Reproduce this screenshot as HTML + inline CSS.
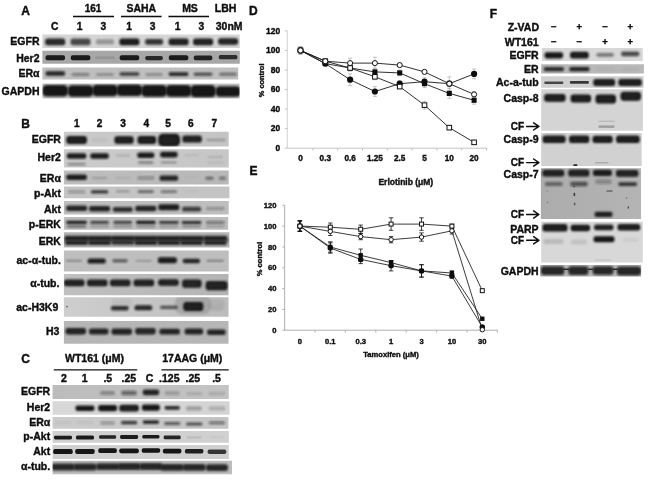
<!DOCTYPE html>
<html lang="en"><head><meta charset="utf-8"><title>Figure</title>
<style>html,body{margin:0;padding:0;background:#fff;}svg{display:block;}text{font-family:"Liberation Sans", Arial, sans-serif;fill:#0a0a0a;stroke:#0a0a0a;stroke-width:0.35px;stroke-linejoin:round;}</style>
</head><body>
<svg width="650" height="483" viewBox="0 0 650 483">
<defs>
<filter id="b1" x="-20%" y="-60%" width="140%" height="220%"><feGaussianBlur stdDeviation="0.8"/></filter>
<filter id="b2" x="-20%" y="-60%" width="140%" height="220%"><feGaussianBlur stdDeviation="1.2"/></filter>
<filter id="b0" x="-20%" y="-60%" width="140%" height="220%"><feGaussianBlur stdDeviation="0.5"/></filter>
<filter id="b7" x="-20%" y="-60%" width="140%" height="220%"><feGaussianBlur stdDeviation="0.68"/></filter>
<filter id="tb"><feGaussianBlur stdDeviation="0.35"/></filter>
</defs>
<rect width="650" height="483" fill="#fff"/>
<g filter="url(#tb)">
<text x="21.3" y="14.8" font-size="12" font-weight="bold" text-anchor="start" >A</text>
<text x="93.0" y="11.8" font-size="10.0" font-weight="bold" text-anchor="middle" >161</text>
<text x="141.3" y="11.8" font-size="10.5" font-weight="bold" text-anchor="middle" >SAHA</text>
<text x="190.0" y="11.8" font-size="10.5" font-weight="bold" text-anchor="middle" >MS</text>
<text x="225.6" y="11.8" font-size="10.5" font-weight="bold" text-anchor="middle" >LBH</text>
<line x1="73.0" y1="16.5" x2="114.0" y2="16.5" stroke="#111" stroke-width="1.4"/>
<line x1="121.0" y1="16.5" x2="161.6" y2="16.5" stroke="#111" stroke-width="1.4"/>
<line x1="168.4" y1="16.5" x2="209.0" y2="16.5" stroke="#111" stroke-width="1.4"/>
<text x="54.8" y="29.6" font-size="10.3" font-weight="bold" text-anchor="middle" >C</text>
<text x="79.6" y="29.6" font-size="10.3" font-weight="bold" text-anchor="middle" >1</text>
<text x="103.4" y="29.6" font-size="10.3" font-weight="bold" text-anchor="middle" >3</text>
<text x="129.0" y="29.6" font-size="10.3" font-weight="bold" text-anchor="middle" >1</text>
<text x="152.7" y="29.6" font-size="10.3" font-weight="bold" text-anchor="middle" >3</text>
<text x="177.7" y="29.6" font-size="10.3" font-weight="bold" text-anchor="middle" >1</text>
<text x="201.4" y="29.6" font-size="10.3" font-weight="bold" text-anchor="middle" >3</text>
<text x="229.2" y="29.6" font-size="10.5" font-weight="bold" text-anchor="middle" >30nM</text>
<text x="39.5" y="44.6" font-size="10.5" font-weight="bold" text-anchor="end" >EGFR</text>
<text x="39.5" y="61.5" font-size="10.5" font-weight="bold" text-anchor="end" >Her2</text>
<text x="39.5" y="77.0" font-size="10.5" font-weight="bold" text-anchor="end" >ER&#945;</text>
<text x="39.5" y="95.0" font-size="10.5" font-weight="bold" text-anchor="end" >GAPDH</text>
</g>
<svg x="42.4" y="34.4" width="197.4" height="13.5" viewBox="42.4 34.4 197.4 13.5" overflow="hidden">
<rect x="40.4" y="32.4" width="201.4" height="17.5" fill="#d5d5d5"/>
<rect x="45.2" y="38.6" width="20.0" height="6.6" rx="2.5" fill="#141414" fill-opacity="0.92" filter="url(#b1)"/>
<rect x="70.5" y="38.6" width="20.0" height="6.6" rx="2.5" fill="#141414" fill-opacity="0.72" filter="url(#b1)"/>
<rect x="96.0" y="39.6" width="18.0" height="4.6" rx="1.7" fill="#141414" fill-opacity="0.36" filter="url(#b1)"/>
<rect x="119.4" y="38.6" width="20.0" height="6.6" rx="2.5" fill="#141414" fill-opacity="1.00" filter="url(#b1)"/>
<rect x="145.1" y="39.0" width="18.0" height="5.8" rx="2.2" fill="#141414" fill-opacity="0.85" filter="url(#b1)"/>
<rect x="168.6" y="38.6" width="20.0" height="6.6" rx="2.5" fill="#141414" fill-opacity="0.97" filter="url(#b1)"/>
<rect x="193.1" y="38.6" width="20.0" height="6.6" rx="2.5" fill="#141414" fill-opacity="0.97" filter="url(#b1)"/>
<rect x="218.1" y="38.2" width="20.0" height="6.6" rx="2.5" fill="#141414" fill-opacity="0.95" filter="url(#b1)"/>
<rect x="47.4" y="40.3" width="15.6" height="3.2" rx="1.6" fill="#585858" fill-opacity="0.16" filter="url(#b1)"/>
<rect x="121.6" y="40.3" width="15.6" height="3.2" rx="1.6" fill="#585858" fill-opacity="0.16" filter="url(#b1)"/>
<rect x="170.8" y="40.3" width="15.6" height="3.2" rx="1.6" fill="#585858" fill-opacity="0.16" filter="url(#b1)"/>
<rect x="195.3" y="40.3" width="15.6" height="3.2" rx="1.6" fill="#585858" fill-opacity="0.16" filter="url(#b1)"/>
<rect x="220.3" y="39.9" width="15.6" height="3.2" rx="1.6" fill="#585858" fill-opacity="0.16" filter="url(#b1)"/>
</svg>
<svg x="42.4" y="50.7" width="197.4" height="13.0" viewBox="42.4 50.7 197.4 13.0" overflow="hidden">
<rect x="40.4" y="48.7" width="201.4" height="17.0" fill="#a7a7a7"/>
<rect x="45.5" y="55.2" width="19.5" height="5.0" rx="1.9" fill="#141414" fill-opacity="0.97" filter="url(#b7)"/>
<rect x="70.8" y="55.2" width="19.5" height="5.0" rx="1.9" fill="#141414" fill-opacity="0.97" filter="url(#b7)"/>
<rect x="95.2" y="56.2" width="19.5" height="3.0" rx="1.1" fill="#141414" fill-opacity="0.10" filter="url(#b7)"/>
<rect x="119.7" y="55.2" width="19.5" height="5.0" rx="1.9" fill="#141414" fill-opacity="0.97" filter="url(#b7)"/>
<rect x="145.3" y="55.9" width="17.5" height="4.4" rx="1.7" fill="#141414" fill-opacity="0.88" filter="url(#b7)"/>
<rect x="168.8" y="55.2" width="19.5" height="5.0" rx="1.9" fill="#141414" fill-opacity="0.97" filter="url(#b7)"/>
<rect x="193.8" y="55.6" width="18.5" height="4.7" rx="1.8" fill="#141414" fill-opacity="0.92" filter="url(#b7)"/>
<rect x="218.8" y="55.1" width="18.5" height="4.2" rx="1.6" fill="#141414" fill-opacity="0.85" filter="url(#b7)"/>
</svg>
<svg x="42.4" y="67.4" width="195.8" height="12.1" viewBox="42.4 67.4 195.8 12.1" overflow="hidden">
<rect x="40.4" y="65.4" width="199.8" height="16.1" fill="#bfbfbf"/>
<rect x="45.5" y="71.2" width="19.5" height="4.6" rx="1.7" fill="#141414" fill-opacity="0.92" filter="url(#b1)"/>
<rect x="71.8" y="73.0" width="17.5" height="3.1" rx="1.2" fill="#141414" fill-opacity="0.40" filter="url(#b1)"/>
<rect x="96.2" y="73.0" width="17.5" height="3.1" rx="1.2" fill="#141414" fill-opacity="0.26" filter="url(#b1)"/>
<rect x="119.7" y="72.2" width="19.5" height="3.6" rx="1.3" fill="#141414" fill-opacity="0.75" filter="url(#b1)"/>
<rect x="145.8" y="73.2" width="16.5" height="2.6" rx="1.0" fill="#141414" fill-opacity="0.38" filter="url(#b1)"/>
<rect x="168.8" y="72.2" width="19.5" height="3.8" rx="1.4" fill="#141414" fill-opacity="0.90" filter="url(#b1)"/>
<rect x="193.8" y="72.7" width="18.5" height="3.1" rx="1.2" fill="#141414" fill-opacity="0.70" filter="url(#b1)"/>
<rect x="219.3" y="72.7" width="17.5" height="3.1" rx="1.2" fill="#141414" fill-opacity="0.50" filter="url(#b1)"/>
</svg>
<svg x="42.4" y="83.4" width="197.2" height="15.2" viewBox="42.4 83.4 197.2 15.2" overflow="hidden">
<rect x="40.4" y="81.4" width="201.2" height="19.2" fill="#c8c8c8"/>
<rect x="42.4" y="84.9" width="25.6" height="11.6" rx="4.3" fill="#141414" fill-opacity="1.00" filter="url(#b1)"/>
<rect x="67.7" y="85.2" width="25.6" height="11.6" rx="4.3" fill="#141414" fill-opacity="1.00" filter="url(#b1)"/>
<rect x="92.2" y="84.7" width="25.6" height="11.6" rx="4.3" fill="#141414" fill-opacity="1.00" filter="url(#b1)"/>
<rect x="116.6" y="84.5" width="25.6" height="11.6" rx="4.3" fill="#141414" fill-opacity="1.00" filter="url(#b1)"/>
<rect x="141.3" y="85.1" width="25.6" height="11.6" rx="4.3" fill="#141414" fill-opacity="1.00" filter="url(#b1)"/>
<rect x="165.8" y="85.1" width="25.6" height="11.6" rx="4.3" fill="#141414" fill-opacity="1.00" filter="url(#b1)"/>
<rect x="190.3" y="85.1" width="25.6" height="12.2" rx="4.6" fill="#141414" fill-opacity="1.00" filter="url(#b1)"/>
<rect x="215.8" y="86.2" width="24.6" height="10.6" rx="4.0" fill="#141414" fill-opacity="1.00" filter="url(#b1)"/>
</svg>
<g filter="url(#tb)">
<text x="21.3" y="127.9" font-size="12" font-weight="bold" text-anchor="start" >B</text>
<text x="76.8" y="126.6" font-size="10.1" font-weight="bold" text-anchor="middle" >1</text>
<text x="99.6" y="126.6" font-size="10.1" font-weight="bold" text-anchor="middle" >2</text>
<text x="123.1" y="126.6" font-size="10.1" font-weight="bold" text-anchor="middle" >3</text>
<text x="146.2" y="126.6" font-size="10.1" font-weight="bold" text-anchor="middle" >4</text>
<text x="168.1" y="126.6" font-size="10.1" font-weight="bold" text-anchor="middle" >5</text>
<text x="190.9" y="126.6" font-size="10.1" font-weight="bold" text-anchor="middle" >6</text>
<text x="214.3" y="126.6" font-size="10.1" font-weight="bold" text-anchor="middle" >7</text>
<text x="60.9" y="142.9" font-size="10.5" font-weight="bold" text-anchor="end" >EGFR</text>
<text x="60.9" y="160.8" font-size="10.5" font-weight="bold" text-anchor="end" >Her2</text>
<text x="60.9" y="181.6" font-size="10.5" font-weight="bold" text-anchor="end" >ER&#945;</text>
<text x="60.9" y="196.5" font-size="10.5" font-weight="bold" text-anchor="end" >p-Akt</text>
<text x="60.9" y="213.4" font-size="10.5" font-weight="bold" text-anchor="end" >Akt</text>
<text x="60.9" y="228.4" font-size="10.5" font-weight="bold" text-anchor="end" >p-ERK</text>
<text x="60.9" y="244.6" font-size="10.5" font-weight="bold" text-anchor="end" >ERK</text>
<text x="60.9" y="264.0" font-size="10.5" font-weight="bold" text-anchor="end" >ac-&#945;-tub.</text>
<text x="59.4" y="286.8" font-size="10.5" font-weight="bold" text-anchor="end" >&#945;-tub.</text>
<text x="58.3" y="311.3" font-size="10.5" font-weight="bold" text-anchor="end" >ac-H3K9</text>
<text x="59.4" y="335.1" font-size="10.5" font-weight="bold" text-anchor="end" >H3</text>
</g>
<linearGradient id="g5" gradientUnits="userSpaceOnUse" x1="63.9" y1="0" x2="228.7" y2="0"><stop offset="0" stop-color="#cacaca"/><stop offset="1" stop-color="#c4c4c4"/></linearGradient>
<svg x="63.9" y="131.8" width="164.8" height="14.8" viewBox="63.9 131.8 164.8 14.8" overflow="hidden">
<rect x="61.9" y="129.8" width="168.8" height="18.8" fill="url(#g5)"/>
<rect x="66.3" y="136.1" width="20.6" height="7.8" rx="2.9" fill="#141414" fill-opacity="1.00" filter="url(#b1)"/>
<rect x="92.2" y="138.2" width="14.6" height="3.6" rx="1.3" fill="#141414" fill-opacity="0.06" filter="url(#b1)"/>
<rect x="114.4" y="136.3" width="19.2" height="7.4" rx="2.8" fill="#141414" fill-opacity="1.00" filter="url(#b1)"/>
<rect x="137.5" y="136.0" width="18.6" height="8.0" rx="3.0" fill="#141414" fill-opacity="1.00" filter="url(#b1)"/>
<rect x="158.2" y="133.8" width="21.8" height="12.6" rx="4.7" fill="#141414" fill-opacity="1.00" filter="url(#b1)"/>
<rect x="182.4" y="135.5" width="19.4" height="7.0" rx="2.6" fill="#141414" fill-opacity="0.97" filter="url(#b1)"/>
<rect x="206.3" y="139.0" width="19.0" height="2.0" rx="0.8" fill="#141414" fill-opacity="0.32" filter="url(#b1)"/>
<rect x="68.5" y="137.8" width="16.2" height="4.4" rx="2.2" fill="#585858" fill-opacity="0.16" filter="url(#b1)"/>
<rect x="116.6" y="138.0" width="14.8" height="4.0" rx="2.0" fill="#585858" fill-opacity="0.16" filter="url(#b1)"/>
<rect x="139.7" y="137.7" width="14.2" height="4.6" rx="2.3" fill="#585858" fill-opacity="0.16" filter="url(#b1)"/>
<rect x="160.4" y="135.5" width="17.4" height="9.2" rx="4.6" fill="#585858" fill-opacity="0.16" filter="url(#b1)"/>
<rect x="184.6" y="137.2" width="15.0" height="3.6" rx="1.8" fill="#585858" fill-opacity="0.16" filter="url(#b1)"/>
</svg>
<linearGradient id="g6" gradientUnits="userSpaceOnUse" x1="63.9" y1="0" x2="228.7" y2="0"><stop offset="0" stop-color="#cccccc"/><stop offset="1" stop-color="#c6c6c6"/></linearGradient>
<svg x="63.9" y="149.3" width="164.8" height="18.3" viewBox="63.9 149.3 164.8 18.3" overflow="hidden">
<rect x="61.9" y="147.3" width="168.8" height="22.3" fill="url(#g6)"/>
<rect x="66.8" y="153.3" width="19.5" height="5.4" rx="2.0" fill="#141414" fill-opacity="0.97" filter="url(#b1)"/>
<rect x="90.3" y="153.3" width="18.5" height="5.4" rx="2.0" fill="#141414" fill-opacity="0.97" filter="url(#b1)"/>
<rect x="115.5" y="154.3" width="14.5" height="2.4" rx="0.9" fill="#141414" fill-opacity="0.13" filter="url(#b1)"/>
<rect x="137.3" y="152.4" width="17.0" height="5.6" rx="2.1" fill="#141414" fill-opacity="0.97" filter="url(#b1)"/>
<rect x="160.1" y="151.8" width="17.5" height="5.6" rx="2.1" fill="#141414" fill-opacity="0.97" filter="url(#b1)"/>
<rect x="184.3" y="154.2" width="14.5" height="1.9" rx="0.7" fill="#141414" fill-opacity="0.10" filter="url(#b1)"/>
<rect x="207.6" y="155.9" width="15.5" height="2.2" rx="0.8" fill="#141414" fill-opacity="0.13" filter="url(#b1)"/>
<rect x="67.6" y="163.0" width="18.0" height="2.3" rx="0.9" fill="#141414" fill-opacity="0.42" filter="url(#b1)"/>
<rect x="138.3" y="161.4" width="15.0" height="2.3" rx="0.9" fill="#141414" fill-opacity="0.48" filter="url(#b1)"/>
<rect x="160.8" y="161.4" width="16.0" height="2.0" rx="0.7" fill="#141414" fill-opacity="0.32" filter="url(#b1)"/>
<rect x="206.8" y="161.4" width="17.0" height="2.3" rx="0.9" fill="#141414" fill-opacity="0.08" filter="url(#b1)"/>
</svg>
<linearGradient id="g7" gradientUnits="userSpaceOnUse" x1="63.9" y1="0" x2="228.7" y2="0"><stop offset="0" stop-color="#bebebe"/><stop offset="1" stop-color="#b8b8b8"/></linearGradient>
<svg x="63.9" y="170.5" width="164.8" height="14.1" viewBox="63.9 170.5 164.8 14.1" overflow="hidden">
<rect x="61.9" y="168.5" width="168.8" height="18.1" fill="url(#g7)"/>
<rect x="66.3" y="174.5" width="20.5" height="5.6" rx="2.1" fill="#141414" fill-opacity="0.97" filter="url(#b1)"/>
<rect x="91.8" y="176.8" width="15.5" height="2.4" rx="0.9" fill="#141414" fill-opacity="0.17" filter="url(#b1)"/>
<rect x="115.0" y="176.7" width="15.5" height="2.6" rx="1.0" fill="#141414" fill-opacity="0.08" filter="url(#b1)"/>
<rect x="137.6" y="176.6" width="16.5" height="2.8" rx="1.0" fill="#141414" fill-opacity="0.32" filter="url(#b1)"/>
<rect x="159.6" y="175.6" width="18.5" height="5.2" rx="1.9" fill="#141414" fill-opacity="0.92" filter="url(#b1)"/>
<rect x="184.3" y="176.0" width="14.5" height="2.6" rx="1.0" fill="#141414" fill-opacity="0.03" filter="url(#b1)"/>
<rect x="205.5" y="176.8" width="8.0" height="3.0" rx="1.1" fill="#141414" fill-opacity="0.50" filter="url(#b1)"/>
<rect x="219.0" y="176.8" width="7.0" height="3.0" rx="1.1" fill="#141414" fill-opacity="0.45" filter="url(#b1)"/>
</svg>
<svg x="63.9" y="186.6" width="165.5" height="11.6" viewBox="63.9 186.6 165.5 11.6" overflow="hidden">
<rect x="61.9" y="184.6" width="169.5" height="15.6" fill="#c4c4c4"/>
<rect x="68.1" y="190.5" width="17.0" height="2.8" rx="1.0" fill="#141414" fill-opacity="0.30" filter="url(#b1)"/>
<rect x="91.1" y="190.3" width="17.0" height="3.2" rx="1.2" fill="#141414" fill-opacity="0.80" filter="url(#b1)"/>
<rect x="115.8" y="190.3" width="14.0" height="2.3" rx="0.9" fill="#141414" fill-opacity="0.24" filter="url(#b1)"/>
<rect x="137.8" y="190.2" width="16.0" height="2.8" rx="1.0" fill="#141414" fill-opacity="0.55" filter="url(#b1)"/>
<rect x="160.8" y="190.2" width="16.0" height="2.8" rx="1.0" fill="#141414" fill-opacity="0.48" filter="url(#b1)"/>
<rect x="185.1" y="190.5" width="13.0" height="1.8" rx="0.7" fill="#141414" fill-opacity="0.05" filter="url(#b1)"/>
</svg>
<svg x="63.9" y="201.0" width="164.8" height="13.6" viewBox="63.9 201.0 164.8 13.6" overflow="hidden">
<rect x="61.9" y="199.0" width="168.8" height="17.6" fill="#bebebe"/>
<rect x="66.1" y="205.5" width="21.0" height="5.6" rx="2.1" fill="#141414" fill-opacity="0.92" filter="url(#b1)"/>
<rect x="89.1" y="206.0" width="21.0" height="5.6" rx="2.1" fill="#141414" fill-opacity="0.92" filter="url(#b1)"/>
<rect x="112.8" y="207.1" width="20.0" height="4.8" rx="1.8" fill="#141414" fill-opacity="0.82" filter="url(#b1)"/>
<rect x="135.3" y="205.7" width="21.0" height="5.6" rx="2.1" fill="#141414" fill-opacity="0.92" filter="url(#b1)"/>
<rect x="158.3" y="204.3" width="21.0" height="6.0" rx="2.2" fill="#141414" fill-opacity="0.96" filter="url(#b1)"/>
<rect x="182.1" y="206.8" width="19.0" height="4.6" rx="1.7" fill="#141414" fill-opacity="0.75" filter="url(#b1)"/>
<rect x="206.3" y="206.9" width="18.0" height="3.2" rx="1.2" fill="#141414" fill-opacity="0.30" filter="url(#b1)"/>
</svg>
<svg x="63.9" y="217.1" width="164.3" height="12.7" viewBox="63.9 217.1 164.3 12.7" overflow="hidden">
<rect x="61.9" y="215.1" width="168.3" height="16.7" fill="#bebebe"/>
<rect x="66.3" y="220.8" width="20.5" height="3.2" rx="1.2" fill="#141414" fill-opacity="0.95" filter="url(#b1)"/>
<rect x="90.3" y="221.0" width="18.5" height="2.8" rx="1.1" fill="#141414" fill-opacity="0.78" filter="url(#b1)"/>
<rect x="113.5" y="221.0" width="18.5" height="2.8" rx="1.1" fill="#141414" fill-opacity="0.78" filter="url(#b1)"/>
<rect x="136.1" y="220.7" width="19.5" height="3.4" rx="1.3" fill="#141414" fill-opacity="0.97" filter="url(#b1)"/>
<rect x="159.1" y="221.0" width="19.5" height="2.8" rx="1.1" fill="#141414" fill-opacity="0.85" filter="url(#b1)"/>
<rect x="181.8" y="221.0" width="19.5" height="2.9" rx="1.1" fill="#141414" fill-opacity="0.88" filter="url(#b1)"/>
<rect x="206.1" y="221.2" width="18.5" height="2.4" rx="0.9" fill="#141414" fill-opacity="0.55" filter="url(#b1)"/>
<rect x="67.1" y="225.2" width="19.0" height="2.2" rx="0.8" fill="#141414" fill-opacity="0.58" filter="url(#b1)"/>
<rect x="90.1" y="225.2" width="19.0" height="2.2" rx="0.8" fill="#141414" fill-opacity="0.22" filter="url(#b1)"/>
<rect x="113.3" y="225.2" width="19.0" height="2.2" rx="0.8" fill="#141414" fill-opacity="0.28" filter="url(#b1)"/>
<rect x="136.3" y="225.2" width="19.0" height="2.2" rx="0.8" fill="#141414" fill-opacity="0.30" filter="url(#b1)"/>
<rect x="159.3" y="225.2" width="19.0" height="2.2" rx="0.8" fill="#141414" fill-opacity="0.24" filter="url(#b1)"/>
<rect x="182.1" y="225.2" width="19.0" height="2.2" rx="0.8" fill="#141414" fill-opacity="0.30" filter="url(#b1)"/>
<rect x="205.8" y="225.2" width="19.0" height="2.2" rx="0.8" fill="#141414" fill-opacity="0.20" filter="url(#b1)"/>
</svg>
<svg x="63.9" y="232.3" width="165.5" height="15.2" viewBox="63.9 232.3 165.5 15.2" overflow="hidden">
<rect x="61.9" y="230.3" width="169.5" height="19.2" fill="#b6b6b6"/>
<rect x="64.6" y="235.8" width="24.0" height="4.8" rx="1.8" fill="#141414" fill-opacity="0.91" filter="url(#b1)"/>
<rect x="87.6" y="235.8" width="24.0" height="4.8" rx="1.8" fill="#141414" fill-opacity="0.91" filter="url(#b1)"/>
<rect x="110.8" y="235.8" width="24.0" height="4.8" rx="1.8" fill="#141414" fill-opacity="0.91" filter="url(#b1)"/>
<rect x="133.8" y="235.8" width="24.0" height="4.8" rx="1.8" fill="#141414" fill-opacity="0.91" filter="url(#b1)"/>
<rect x="156.8" y="235.8" width="24.0" height="4.8" rx="1.8" fill="#141414" fill-opacity="0.91" filter="url(#b1)"/>
<rect x="179.6" y="235.8" width="24.0" height="4.8" rx="1.8" fill="#141414" fill-opacity="0.91" filter="url(#b1)"/>
<rect x="203.3" y="235.8" width="24.0" height="4.8" rx="1.8" fill="#141414" fill-opacity="0.91" filter="url(#b1)"/>
<rect x="65.3" y="240.5" width="22.5" height="4.6" rx="1.7" fill="#141414" fill-opacity="0.91" filter="url(#b1)"/>
<rect x="88.3" y="240.5" width="22.5" height="4.6" rx="1.7" fill="#141414" fill-opacity="0.91" filter="url(#b1)"/>
<rect x="111.5" y="240.8" width="22.5" height="4.0" rx="1.5" fill="#141414" fill-opacity="0.85" filter="url(#b1)"/>
<rect x="134.6" y="240.5" width="22.5" height="4.6" rx="1.7" fill="#141414" fill-opacity="0.91" filter="url(#b1)"/>
<rect x="157.6" y="240.5" width="22.5" height="4.6" rx="1.7" fill="#141414" fill-opacity="0.91" filter="url(#b1)"/>
<rect x="180.3" y="240.5" width="22.5" height="4.6" rx="1.7" fill="#141414" fill-opacity="0.91" filter="url(#b1)"/>
<rect x="204.1" y="240.5" width="22.5" height="4.6" rx="1.7" fill="#141414" fill-opacity="0.90" filter="url(#b1)"/>
<rect x="64.5" y="238.8" width="164.0" height="3.0" rx="1.1" fill="#141414" fill-opacity="0.55" filter="url(#b1)"/>
</svg>
<svg x="63.9" y="250.5" width="164.8" height="20.9" viewBox="63.9 250.5 164.8 20.9" overflow="hidden">
<rect x="61.9" y="248.5" width="168.8" height="24.9" fill="#bebebe"/>
<rect x="65.9" y="259.8" width="16.0" height="2.0" rx="0.8" fill="#141414" fill-opacity="0.30" filter="url(#b1)"/>
<rect x="87.7" y="258.6" width="18.0" height="5.0" rx="1.9" fill="#141414" fill-opacity="0.97" filter="url(#b1)"/>
<rect x="112.5" y="259.3" width="15.0" height="3.0" rx="1.1" fill="#141414" fill-opacity="0.62" filter="url(#b1)"/>
<rect x="135.8" y="259.9" width="16.0" height="1.8" rx="0.7" fill="#141414" fill-opacity="0.25" filter="url(#b1)"/>
<rect x="157.9" y="257.2" width="19.0" height="6.0" rx="2.2" fill="#141414" fill-opacity="0.97" filter="url(#b1)"/>
<rect x="182.9" y="258.8" width="17.0" height="4.4" rx="1.7" fill="#141414" fill-opacity="0.92" filter="url(#b1)"/>
<rect x="206.7" y="259.8" width="17.0" height="2.0" rx="0.8" fill="#141414" fill-opacity="0.36" filter="url(#b1)"/>
</svg>
<linearGradient id="g13" gradientUnits="userSpaceOnUse" x1="63.9" y1="0" x2="228.5" y2="0"><stop offset="0" stop-color="#c0c0c0"/><stop offset="1" stop-color="#b4b4b4"/></linearGradient>
<svg x="63.9" y="274.1" width="164.6" height="21.1" viewBox="63.9 274.1 164.6 21.1" overflow="hidden">
<rect x="61.9" y="272.1" width="168.6" height="25.1" fill="url(#g13)"/>
<rect x="64.0" y="279.6" width="20.5" height="6.6" rx="2.5" fill="#141414" fill-opacity="0.97" filter="url(#b1)"/>
<rect x="87.0" y="279.6" width="20.5" height="6.6" rx="2.5" fill="#141414" fill-opacity="0.97" filter="url(#b1)"/>
<rect x="110.0" y="279.6" width="20.5" height="6.6" rx="2.5" fill="#141414" fill-opacity="0.97" filter="url(#b1)"/>
<rect x="133.6" y="279.6" width="20.5" height="6.6" rx="2.5" fill="#141414" fill-opacity="0.97" filter="url(#b1)"/>
<rect x="158.2" y="279.2" width="20.5" height="6.6" rx="2.5" fill="#141414" fill-opacity="0.97" filter="url(#b1)"/>
<rect x="182.1" y="279.6" width="19.5" height="8.2" rx="3.1" fill="#141414" fill-opacity="0.97" filter="url(#b1)"/>
<rect x="205.6" y="281.1" width="22.0" height="9.2" rx="3.4" fill="#141414" fill-opacity="0.98" filter="url(#b1)"/>
<rect x="66.2" y="281.3" width="16.1" height="3.2" rx="1.6" fill="#585858" fill-opacity="0.16" filter="url(#b1)"/>
<rect x="89.2" y="281.3" width="16.1" height="3.2" rx="1.6" fill="#585858" fill-opacity="0.16" filter="url(#b1)"/>
<rect x="112.2" y="281.3" width="16.1" height="3.2" rx="1.6" fill="#585858" fill-opacity="0.16" filter="url(#b1)"/>
<rect x="135.8" y="281.3" width="16.1" height="3.2" rx="1.6" fill="#585858" fill-opacity="0.16" filter="url(#b1)"/>
<rect x="160.4" y="280.9" width="16.1" height="3.2" rx="1.6" fill="#585858" fill-opacity="0.16" filter="url(#b1)"/>
<rect x="184.2" y="281.3" width="15.1" height="4.8" rx="2.4" fill="#585858" fill-opacity="0.16" filter="url(#b1)"/>
<rect x="207.8" y="282.8" width="17.6" height="5.8" rx="2.9" fill="#585858" fill-opacity="0.16" filter="url(#b1)"/>
</svg>
<linearGradient id="g14" gradientUnits="userSpaceOnUse" x1="63.9" y1="0" x2="228.5" y2="0"><stop offset="0" stop-color="#cecece"/><stop offset="1" stop-color="#bcbcbc"/></linearGradient>
<svg x="63.9" y="297.3" width="164.6" height="19.5" viewBox="63.9 297.3 164.6 19.5" overflow="hidden">
<rect x="61.9" y="295.3" width="168.6" height="23.5" fill="url(#g14)"/>
<rect x="175.0" y="295.5" width="36.0" height="19.0" rx="7.1" fill="#141414" fill-opacity="0.13" filter="url(#b2)"/>
<rect x="209.5" y="299.0" width="15.0" height="12.0" rx="4.5" fill="#141414" fill-opacity="0.07" filter="url(#b2)"/>
<rect x="112.0" y="299.0" width="20.0" height="8.0" rx="3.0" fill="#141414" fill-opacity="0.05" filter="url(#b2)"/>
<rect x="66.2" y="305.8" width="1.6" height="1.6" rx="0.6" fill="#141414" fill-opacity="0.60" filter="url(#b0)"/>
<rect x="111.0" y="305.9" width="17.5" height="4.6" rx="1.7" fill="#141414" fill-opacity="0.88" filter="url(#b1)"/>
<rect x="134.6" y="305.3" width="17.5" height="5.0" rx="1.9" fill="#141414" fill-opacity="0.90" filter="url(#b1)"/>
<rect x="160.1" y="305.7" width="17.5" height="3.4" rx="1.3" fill="#141414" fill-opacity="0.65" filter="url(#b1)"/>
<rect x="207.2" y="305.3" width="17.5" height="4.6" rx="1.7" fill="#141414" fill-opacity="0.02" filter="url(#b1)"/>
<rect x="183.3" y="302.1" width="20.0" height="9.0" rx="3.4" fill="#141414" fill-opacity="1.00" filter="url(#b1)"/>
<rect x="185.5" y="303.8" width="15.6" height="5.6" rx="2.8" fill="#585858" fill-opacity="0.16" filter="url(#b1)"/>
</svg>
<svg x="63.9" y="320.9" width="164.6" height="22.8" viewBox="63.9 320.9 164.6 22.8" overflow="hidden">
<rect x="61.9" y="318.9" width="168.6" height="26.8" fill="#b6b6b6"/>
<rect x="65.5" y="328.0" width="20.5" height="6.4" rx="2.4" fill="#141414" fill-opacity="0.95" filter="url(#b1)"/>
<rect x="89.0" y="328.5" width="19.5" height="6.0" rx="2.2" fill="#141414" fill-opacity="0.93" filter="url(#b1)"/>
<rect x="111.5" y="328.5" width="20.5" height="6.2" rx="2.3" fill="#141414" fill-opacity="0.93" filter="url(#b1)"/>
<rect x="135.2" y="328.0" width="20.5" height="6.4" rx="2.4" fill="#141414" fill-opacity="0.93" filter="url(#b1)"/>
<rect x="159.4" y="328.8" width="20.5" height="5.8" rx="2.2" fill="#141414" fill-opacity="0.93" filter="url(#b1)"/>
<rect x="184.6" y="328.4" width="18.5" height="6.2" rx="2.3" fill="#141414" fill-opacity="0.93" filter="url(#b1)"/>
<rect x="207.1" y="329.4" width="18.5" height="5.6" rx="2.1" fill="#141414" fill-opacity="0.93" filter="url(#b1)"/>
<rect x="67.7" y="329.7" width="16.1" height="3.0" rx="1.5" fill="#585858" fill-opacity="0.16" filter="url(#b1)"/>
<rect x="137.4" y="329.7" width="16.1" height="3.0" rx="1.5" fill="#585858" fill-opacity="0.16" filter="url(#b1)"/>
</svg>
<g filter="url(#tb)">
<text x="21.3" y="363.3" font-size="12" font-weight="bold" text-anchor="start" >C</text>
<text x="94.5" y="362.3" font-size="10.5" font-weight="bold" text-anchor="middle" >WT161 (&#956;M)</text>
<text x="192.3" y="362.3" font-size="10.5" font-weight="bold" text-anchor="middle" >17AAG (&#956;M)</text>
<line x1="53.8" y1="369.9" x2="137.2" y2="369.9" stroke="#111" stroke-width="1.4"/>
<line x1="161.5" y1="369.9" x2="228.7" y2="369.9" stroke="#111" stroke-width="1.4"/>
<text x="63.8" y="382.3" font-size="10.5" font-weight="bold" text-anchor="middle" >2</text>
<text x="84.7" y="382.3" font-size="10.5" font-weight="bold" text-anchor="middle" >1</text>
<text x="107.8" y="382.3" font-size="10.5" font-weight="bold" text-anchor="middle" >.5</text>
<text x="128.9" y="382.3" font-size="10.5" font-weight="bold" text-anchor="middle" >.25</text>
<text x="149.6" y="382.3" font-size="10.5" font-weight="bold" text-anchor="middle" >C</text>
<text x="169.3" y="382.3" font-size="10.5" font-weight="bold" text-anchor="middle" >.125</text>
<text x="192.8" y="382.3" font-size="10.5" font-weight="bold" text-anchor="middle" >.25</text>
<text x="216.6" y="382.3" font-size="10.5" font-weight="bold" text-anchor="middle" >.5</text>
<text x="50.2" y="395.1" font-size="10.5" font-weight="bold" text-anchor="end" >EGFR</text>
<text x="50.2" y="411.4" font-size="10.5" font-weight="bold" text-anchor="end" >Her2</text>
<text x="50.2" y="425.8" font-size="10.5" font-weight="bold" text-anchor="end" >ER&#945;</text>
<text x="50.2" y="439.6" font-size="10.5" font-weight="bold" text-anchor="end" >p-Akt</text>
<text x="50.2" y="455.2" font-size="10.5" font-weight="bold" text-anchor="end" >Akt</text>
<text x="50.2" y="470.2" font-size="10.5" font-weight="bold" text-anchor="end" >&#945;-tub.</text>
</g>
<linearGradient id="g16" gradientUnits="userSpaceOnUse" x1="52.6" y1="0" x2="228.8" y2="0"><stop offset="0" stop-color="#bcbcbc"/><stop offset="1" stop-color="#c4c4c4"/></linearGradient>
<svg x="52.6" y="385.0" width="176.2" height="13.9" viewBox="52.6 385.0 176.2 13.9" overflow="hidden">
<rect x="50.6" y="383.0" width="180.2" height="17.9" fill="url(#g16)"/>
<rect x="100.3" y="391.3" width="14.5" height="3.8" rx="1.4" fill="#141414" fill-opacity="0.36" filter="url(#b1)"/>
<rect x="121.3" y="390.8" width="15.5" height="4.4" rx="1.7" fill="#141414" fill-opacity="0.52" filter="url(#b1)"/>
<rect x="142.7" y="389.6" width="16.5" height="5.6" rx="2.1" fill="#141414" fill-opacity="0.93" filter="url(#b1)"/>
<rect x="164.7" y="391.1" width="15.0" height="4.2" rx="1.6" fill="#141414" fill-opacity="0.20" filter="url(#b2)"/>
<rect x="186.2" y="392.0" width="16.0" height="3.6" rx="1.4" fill="#141414" fill-opacity="0.13" filter="url(#b2)"/>
<rect x="208.4" y="391.8" width="17.0" height="3.6" rx="1.4" fill="#141414" fill-opacity="0.13" filter="url(#b2)"/>
</svg>
<linearGradient id="g17" gradientUnits="userSpaceOnUse" x1="52.6" y1="0" x2="229.6" y2="0"><stop offset="0" stop-color="#d8d8d8"/><stop offset="1" stop-color="#d4d4d4"/></linearGradient>
<svg x="52.6" y="401.2" width="177.0" height="13.6" viewBox="52.6 401.2 177.0 13.6" overflow="hidden">
<rect x="50.6" y="399.2" width="181.0" height="17.6" fill="url(#g17)"/>
<rect x="75.5" y="405.4" width="19.0" height="5.6" rx="2.1" fill="#141414" fill-opacity="1.00" filter="url(#b1)"/>
<rect x="98.1" y="405.1" width="19.0" height="6.2" rx="2.3" fill="#141414" fill-opacity="1.00" filter="url(#b1)"/>
<rect x="119.3" y="404.8" width="19.5" height="6.8" rx="2.5" fill="#141414" fill-opacity="1.00" filter="url(#b1)"/>
<rect x="141.9" y="404.5" width="18.0" height="6.2" rx="2.3" fill="#141414" fill-opacity="1.00" filter="url(#b1)"/>
<rect x="164.7" y="405.9" width="15.0" height="3.8" rx="1.4" fill="#141414" fill-opacity="0.90" filter="url(#b1)"/>
<rect x="186.0" y="406.2" width="16.0" height="4.4" rx="1.7" fill="#141414" fill-opacity="0.26" filter="url(#b2)"/>
<rect x="208.5" y="406.2" width="17.0" height="4.4" rx="1.7" fill="#141414" fill-opacity="0.18" filter="url(#b2)"/>
<rect x="121.5" y="406.5" width="15.1" height="3.4" rx="1.7" fill="#585858" fill-opacity="0.16" filter="url(#b1)"/>
</svg>
<linearGradient id="g18" gradientUnits="userSpaceOnUse" x1="52.6" y1="0" x2="228.4" y2="0"><stop offset="0" stop-color="#cccccc"/><stop offset="1" stop-color="#c4c4c4"/></linearGradient>
<svg x="52.6" y="417.0" width="175.8" height="11.8" viewBox="52.6 417.0 175.8 11.8" overflow="hidden">
<rect x="50.6" y="415.0" width="179.8" height="15.8" fill="url(#g18)"/>
<rect x="54.5" y="421.0" width="17.0" height="3.2" rx="1.2" fill="#141414" fill-opacity="0.05" filter="url(#b1)"/>
<rect x="76.5" y="421.0" width="17.0" height="3.2" rx="1.2" fill="#141414" fill-opacity="0.05" filter="url(#b1)"/>
<rect x="100.6" y="421.4" width="14.0" height="3.2" rx="1.2" fill="#141414" fill-opacity="0.32" filter="url(#b1)"/>
<rect x="121.1" y="421.0" width="16.0" height="3.2" rx="1.2" fill="#141414" fill-opacity="0.80" filter="url(#b1)"/>
<rect x="142.9" y="420.6" width="16.0" height="3.2" rx="1.2" fill="#141414" fill-opacity="0.95" filter="url(#b1)"/>
<rect x="164.2" y="422.0" width="16.0" height="3.0" rx="1.1" fill="#141414" fill-opacity="0.62" filter="url(#b1)"/>
<rect x="186.2" y="422.4" width="16.0" height="3.2" rx="1.2" fill="#141414" fill-opacity="0.68" filter="url(#b1)"/>
<rect x="208.9" y="421.5" width="16.0" height="2.8" rx="1.1" fill="#141414" fill-opacity="0.50" filter="url(#b1)"/>
</svg>
<svg x="52.6" y="431.1" width="176.2" height="11.6" viewBox="52.6 431.1 176.2 11.6" overflow="hidden">
<rect x="50.6" y="429.1" width="180.2" height="15.6" fill="#d0d0d0"/>
<rect x="54.0" y="435.7" width="18.0" height="3.8" rx="1.4" fill="#141414" fill-opacity="0.97" filter="url(#b7)"/>
<rect x="76.0" y="435.4" width="18.0" height="4.0" rx="1.5" fill="#141414" fill-opacity="0.98" filter="url(#b7)"/>
<rect x="99.1" y="435.3" width="17.0" height="3.4" rx="1.3" fill="#141414" fill-opacity="0.93" filter="url(#b7)"/>
<rect x="120.1" y="435.1" width="18.0" height="3.8" rx="1.4" fill="#141414" fill-opacity="0.97" filter="url(#b7)"/>
<rect x="142.4" y="434.9" width="17.0" height="3.6" rx="1.3" fill="#141414" fill-opacity="0.98" filter="url(#b7)"/>
<rect x="163.7" y="435.6" width="17.0" height="3.6" rx="1.3" fill="#141414" fill-opacity="0.93" filter="url(#b7)"/>
<rect x="186.7" y="436.0" width="15.0" height="2.8" rx="1.0" fill="#141414" fill-opacity="0.08" filter="url(#b7)"/>
<rect x="209.4" y="435.8" width="15.0" height="2.8" rx="1.0" fill="#141414" fill-opacity="0.03" filter="url(#b7)"/>
</svg>
<svg x="52.6" y="445.0" width="176.2" height="14.0" viewBox="52.6 445.0 176.2 14.0" overflow="hidden">
<rect x="50.6" y="443.0" width="180.2" height="18.0" fill="#d0d0d0"/>
<rect x="53.2" y="449.1" width="19.5" height="5.0" rx="1.9" fill="#141414" fill-opacity="1.00" filter="url(#b7)"/>
<rect x="75.2" y="448.9" width="19.5" height="5.0" rx="1.9" fill="#141414" fill-opacity="1.00" filter="url(#b7)"/>
<rect x="98.3" y="448.3" width="18.5" height="4.6" rx="1.7" fill="#141414" fill-opacity="1.00" filter="url(#b7)"/>
<rect x="119.3" y="448.4" width="19.5" height="4.8" rx="1.8" fill="#141414" fill-opacity="1.00" filter="url(#b7)"/>
<rect x="141.7" y="448.2" width="18.5" height="4.6" rx="1.7" fill="#141414" fill-opacity="1.00" filter="url(#b7)"/>
<rect x="162.9" y="448.8" width="18.5" height="4.8" rx="1.8" fill="#141414" fill-opacity="1.00" filter="url(#b7)"/>
<rect x="184.9" y="449.0" width="18.5" height="4.4" rx="1.7" fill="#141414" fill-opacity="0.95" filter="url(#b7)"/>
<rect x="207.7" y="449.6" width="18.5" height="4.4" rx="1.7" fill="#141414" fill-opacity="0.80" filter="url(#b7)"/>
</svg>
<svg x="52.6" y="460.8" width="179.4" height="13.4" viewBox="52.6 460.8 179.4 13.4" overflow="hidden">
<rect x="50.6" y="458.8" width="183.4" height="17.4" fill="#bcbcbc"/>
<rect x="51.5" y="463.6" width="23.0" height="6.8" rx="2.5" fill="#141414" fill-opacity="0.91" filter="url(#b1)"/>
<rect x="73.5" y="463.6" width="23.0" height="6.8" rx="2.5" fill="#141414" fill-opacity="0.91" filter="url(#b1)"/>
<rect x="96.1" y="463.3" width="23.0" height="6.8" rx="2.5" fill="#141414" fill-opacity="0.91" filter="url(#b1)"/>
<rect x="117.6" y="463.1" width="23.0" height="6.8" rx="2.5" fill="#141414" fill-opacity="0.91" filter="url(#b1)"/>
<rect x="139.4" y="463.1" width="23.0" height="6.8" rx="2.5" fill="#141414" fill-opacity="0.91" filter="url(#b1)"/>
<rect x="160.7" y="463.9" width="23.0" height="6.8" rx="2.5" fill="#141414" fill-opacity="0.91" filter="url(#b1)"/>
<rect x="182.7" y="464.0" width="23.0" height="6.8" rx="2.5" fill="#141414" fill-opacity="0.91" filter="url(#b1)"/>
<rect x="205.9" y="464.2" width="22.0" height="6.8" rx="2.5" fill="#141414" fill-opacity="0.91" filter="url(#b1)"/>
</svg>
<g filter="url(#tb)">
<text x="489.7" y="18.3" font-size="12" font-weight="bold" text-anchor="start" >F</text>
<text x="539.0" y="30.6" font-size="10.5" font-weight="bold" text-anchor="end" >Z-VAD</text>
<text x="538.6" y="45.9" font-size="10.5" font-weight="bold" text-anchor="end" >WT161</text>
<text x="553.8" y="30.2" font-size="9.5" font-weight="bold" text-anchor="middle" >&#8722;</text>
<text x="579.4" y="30.2" font-size="9.5" font-weight="bold" text-anchor="middle" >+</text>
<text x="605.1" y="30.2" font-size="9.5" font-weight="bold" text-anchor="middle" >&#8722;</text>
<text x="630.2" y="30.2" font-size="9.5" font-weight="bold" text-anchor="middle" >+</text>
<text x="553.8" y="44.6" font-size="9.5" font-weight="bold" text-anchor="middle" >&#8722;</text>
<text x="579.4" y="44.6" font-size="9.5" font-weight="bold" text-anchor="middle" >&#8722;</text>
<text x="605.1" y="44.6" font-size="9.5" font-weight="bold" text-anchor="middle" >+</text>
<text x="630.2" y="44.6" font-size="9.5" font-weight="bold" text-anchor="middle" >+</text>
<text x="538.6" y="58.6" font-size="10.5" font-weight="bold" text-anchor="end" >EGFR</text>
<text x="538.6" y="73.0" font-size="10.5" font-weight="bold" text-anchor="end" >ER</text>
<text x="538.6" y="86.0" font-size="10.5" font-weight="bold" text-anchor="end" >Ac-a-tub</text>
<text x="538.6" y="101.6" font-size="10.5" font-weight="bold" text-anchor="end" >Casp-8</text>
<text x="538.6" y="142.7" font-size="10.5" font-weight="bold" text-anchor="end" >Casp-9</text>
<text x="538.6" y="178.2" font-size="10.5" font-weight="bold" text-anchor="end" >Casp-7</text>
<text x="538.6" y="233.0" font-size="10.5" font-weight="bold" text-anchor="end" >PARP</text>
<text x="538.6" y="275.0" font-size="10.5" font-weight="bold" text-anchor="end" >GAPDH</text>
<text x="524.0" y="129.9" font-size="10.0" font-weight="bold" text-anchor="end" >CF</text>
<path d="M526.6 126.4 H538.6 M533.6 122.8 L538.9 126.4 L533.6 130.0" fill="none" stroke="#0a0a0a" stroke-width="1.45" stroke-linecap="round" stroke-linejoin="round"/>
<text x="524.0" y="166.1" font-size="10.0" font-weight="bold" text-anchor="end" >CF</text>
<path d="M526.6 162.6 H538.6 M533.6 159.0 L538.9 162.6 L533.6 166.2" fill="none" stroke="#0a0a0a" stroke-width="1.45" stroke-linecap="round" stroke-linejoin="round"/>
<text x="524.0" y="218.0" font-size="10.0" font-weight="bold" text-anchor="end" >CF</text>
<path d="M526.6 214.5 H538.6 M533.6 210.9 L538.9 214.5 L533.6 218.1" fill="none" stroke="#0a0a0a" stroke-width="1.45" stroke-linecap="round" stroke-linejoin="round"/>
<text x="524.0" y="243.8" font-size="10.0" font-weight="bold" text-anchor="end" >CF</text>
<path d="M526.6 240.3 H538.6 M533.6 236.7 L538.9 240.3 L533.6 243.9" fill="none" stroke="#0a0a0a" stroke-width="1.45" stroke-linecap="round" stroke-linejoin="round"/>
</g>
<svg x="541.9" y="48.0" width="100.9" height="13.1" viewBox="541.9 48.0 100.9 13.1" overflow="hidden">
<rect x="539.9" y="46.0" width="104.9" height="17.1" fill="#d8d8d8"/>
<rect x="544.5" y="52.2" width="18.6" height="6.2" rx="2.3" fill="#141414" fill-opacity="1.00" filter="url(#b1)"/>
<rect x="570.1" y="51.7" width="18.6" height="6.8" rx="2.5" fill="#141414" fill-opacity="1.00" filter="url(#b1)"/>
<rect x="596.6" y="53.0" width="17.1" height="3.8" rx="1.4" fill="#141414" fill-opacity="0.50" filter="url(#b1)"/>
<rect x="621.2" y="51.6" width="18.0" height="4.6" rx="1.7" fill="#141414" fill-opacity="0.72" filter="url(#b1)"/>
<rect x="572.3" y="53.4" width="14.2" height="3.4" rx="1.7" fill="#585858" fill-opacity="0.16" filter="url(#b1)"/>
</svg>
<svg x="541.2" y="64.2" width="102.7" height="9.3" viewBox="541.2 64.2 102.7 9.3" overflow="hidden">
<rect x="539.2" y="62.2" width="106.7" height="13.3" fill="#b8b8b8"/>
<rect x="543.8" y="67.0" width="20.0" height="4.2" rx="1.6" fill="#141414" fill-opacity="0.88" filter="url(#b1)"/>
<rect x="569.4" y="66.9" width="20.0" height="4.4" rx="1.7" fill="#141414" fill-opacity="0.92" filter="url(#b1)"/>
<rect x="595.1" y="67.0" width="20.0" height="4.2" rx="1.6" fill="#141414" fill-opacity="0.03" filter="url(#b1)"/>
<rect x="622.2" y="67.7" width="16.0" height="2.8" rx="1.1" fill="#141414" fill-opacity="0.06" filter="url(#b1)"/>
</svg>
<svg x="541.2" y="76.3" width="102.4" height="11.5" viewBox="541.2 76.3 102.4 11.5" overflow="hidden">
<rect x="539.2" y="74.3" width="106.4" height="15.5" fill="#d0d0d0"/>
<rect x="544.3" y="81.5" width="19.0" height="2.5" rx="0.9" fill="#141414" fill-opacity="0.72" filter="url(#b7)"/>
<rect x="569.9" y="81.1" width="19.0" height="2.6" rx="1.0" fill="#141414" fill-opacity="0.80" filter="url(#b7)"/>
<rect x="593.3" y="78.9" width="21.8" height="7.0" rx="2.6" fill="#141414" fill-opacity="1.00" filter="url(#b1)"/>
<rect x="618.4" y="78.9" width="23.4" height="7.0" rx="2.6" fill="#141414" fill-opacity="1.00" filter="url(#b1)"/>
<rect x="595.5" y="80.6" width="17.4" height="3.6" rx="1.8" fill="#585858" fill-opacity="0.16" filter="url(#b1)"/>
<rect x="620.6" y="80.6" width="19.0" height="3.6" rx="1.8" fill="#585858" fill-opacity="0.16" filter="url(#b1)"/>
</svg>
<svg x="541.2" y="89.3" width="101.7" height="41.4" viewBox="541.2 89.3 101.7 41.4" overflow="hidden">
<rect x="539.2" y="87.3" width="105.7" height="45.4" fill="#d4d4d4"/>
<rect x="544.1" y="93.9" width="21.5" height="7.8" rx="2.9" fill="#141414" fill-opacity="1.00" filter="url(#b1)"/>
<rect x="570.6" y="94.6" width="20.5" height="7.8" rx="2.9" fill="#141414" fill-opacity="1.00" filter="url(#b1)"/>
<rect x="595.5" y="94.6" width="20.5" height="9.0" rx="3.4" fill="#141414" fill-opacity="1.00" filter="url(#b1)"/>
<rect x="620.5" y="91.7" width="20.5" height="9.0" rx="3.4" fill="#141414" fill-opacity="1.00" filter="url(#b1)"/>
<rect x="598.5" y="125.5" width="16.0" height="2.2" rx="0.8" fill="#141414" fill-opacity="0.30" filter="url(#b7)"/>
<rect x="598.5" y="120.4" width="16.0" height="1.6" rx="0.6" fill="#141414" fill-opacity="0.12" filter="url(#b7)"/>
<rect x="546.4" y="95.6" width="17.1" height="4.4" rx="2.2" fill="#585858" fill-opacity="0.16" filter="url(#b1)"/>
<rect x="572.9" y="96.3" width="16.1" height="4.4" rx="2.2" fill="#585858" fill-opacity="0.16" filter="url(#b1)"/>
<rect x="597.8" y="96.3" width="16.1" height="5.6" rx="2.8" fill="#585858" fill-opacity="0.16" filter="url(#b1)"/>
<rect x="622.7" y="93.4" width="16.1" height="5.6" rx="2.8" fill="#585858" fill-opacity="0.16" filter="url(#b1)"/>
</svg>
<svg x="541.2" y="133.0" width="100.5" height="33.0" viewBox="541.2 133.0 100.5 33.0" overflow="hidden">
<rect x="539.2" y="131.0" width="104.5" height="37.0" fill="#d1d1d1"/>
<rect x="542.6" y="135.5" width="23.0" height="7.6" rx="2.8" fill="#141414" fill-opacity="1.00" filter="url(#b1)"/>
<rect x="569.1" y="135.5" width="20.2" height="7.6" rx="2.8" fill="#141414" fill-opacity="1.00" filter="url(#b1)"/>
<rect x="592.5" y="135.7" width="20.2" height="7.2" rx="2.7" fill="#141414" fill-opacity="1.00" filter="url(#b1)"/>
<rect x="616.1" y="135.6" width="23.6" height="7.4" rx="2.8" fill="#141414" fill-opacity="1.00" filter="url(#b1)"/>
<rect x="595.0" y="161.9" width="13.5" height="1.6" rx="0.6" fill="#141414" fill-opacity="0.18" filter="url(#b7)"/>
<rect x="573.3" y="164.3" width="4.0" height="1.8" rx="0.7" fill="#141414" fill-opacity="0.90" filter="url(#b0)"/>
<rect x="544.8" y="137.2" width="18.6" height="4.2" rx="2.1" fill="#585858" fill-opacity="0.16" filter="url(#b1)"/>
<rect x="571.3" y="137.2" width="15.8" height="4.2" rx="2.1" fill="#585858" fill-opacity="0.16" filter="url(#b1)"/>
<rect x="594.7" y="137.4" width="15.8" height="3.8" rx="1.9" fill="#585858" fill-opacity="0.16" filter="url(#b1)"/>
<rect x="618.3" y="137.3" width="19.2" height="4.0" rx="2.0" fill="#585858" fill-opacity="0.16" filter="url(#b1)"/>
</svg>
<linearGradient id="g27" gradientUnits="userSpaceOnUse" x1="540.9" y1="0" x2="641.0" y2="0"><stop offset="0" stop-color="#acacac"/><stop offset="1" stop-color="#b4b4b4"/></linearGradient>
<svg x="540.9" y="168.3" width="100.1" height="50.8" viewBox="540.9 168.3 100.1 50.8" overflow="hidden">
<rect x="538.9" y="166.3" width="104.1" height="54.8" fill="url(#g27)"/>
<rect x="542.4" y="169.7" width="21.8" height="6.8" rx="2.5" fill="#141414" fill-opacity="0.97" filter="url(#b1)"/>
<rect x="568.3" y="169.6" width="21.0" height="7.0" rx="2.6" fill="#141414" fill-opacity="0.97" filter="url(#b1)"/>
<rect x="592.9" y="169.8" width="19.0" height="6.2" rx="2.3" fill="#141414" fill-opacity="0.97" filter="url(#b1)"/>
<rect x="616.0" y="170.0" width="22.4" height="6.8" rx="2.5" fill="#141414" fill-opacity="0.97" filter="url(#b1)"/>
<rect x="545.0" y="182.0" width="17.5" height="4.0" rx="1.5" fill="#141414" fill-opacity="0.50" filter="url(#b2)"/>
<rect x="570.2" y="181.8" width="17.5" height="4.4" rx="1.7" fill="#141414" fill-opacity="0.62" filter="url(#b2)"/>
<rect x="595.4" y="179.6" width="16.0" height="4.4" rx="1.7" fill="#141414" fill-opacity="0.30" filter="url(#b2)"/>
<rect x="618.4" y="182.3" width="18.5" height="3.8" rx="1.4" fill="#141414" fill-opacity="0.80" filter="url(#b1)"/>
<rect x="594.5" y="211.7" width="18.0" height="5.2" rx="2.0" fill="#141414" fill-opacity="0.95" filter="url(#b1)"/>
<rect x="546.8" y="190.4" width="1.4" height="1.2" rx="0.4" fill="#141414" fill-opacity="0.30" filter="url(#b0)"/>
<rect x="546.8" y="201.7" width="1.4" height="1.6" rx="0.6" fill="#141414" fill-opacity="0.30" filter="url(#b0)"/>
<rect x="573.4" y="185.8" width="1.6" height="1.4" rx="0.5" fill="#141414" fill-opacity="0.50" filter="url(#b0)"/>
<rect x="573.6" y="192.8" width="1.6" height="3.4" rx="0.8" fill="#141414" fill-opacity="0.70" filter="url(#b0)"/>
<rect x="573.9" y="202.5" width="1.4" height="3.0" rx="0.7" fill="#141414" fill-opacity="0.55" filter="url(#b0)"/>
<rect x="606.5" y="190.2" width="6.0" height="1.6" rx="0.6" fill="#141414" fill-opacity="0.50" filter="url(#b0)"/>
<rect x="627.5" y="206.2" width="1.6" height="2.6" rx="0.8" fill="#141414" fill-opacity="0.60" filter="url(#b0)"/>
<rect x="625.9" y="197.0" width="1.2" height="2.0" rx="0.6" fill="#141414" fill-opacity="0.25" filter="url(#b0)"/>
<rect x="544.6" y="171.4" width="17.4" height="3.4" rx="1.7" fill="#585858" fill-opacity="0.16" filter="url(#b1)"/>
<rect x="570.5" y="171.3" width="16.6" height="3.6" rx="1.8" fill="#585858" fill-opacity="0.16" filter="url(#b1)"/>
<rect x="618.2" y="171.7" width="18.0" height="3.4" rx="1.7" fill="#585858" fill-opacity="0.16" filter="url(#b1)"/>
</svg>
<svg x="541.2" y="221.8" width="101.6" height="40.7" viewBox="541.2 221.8 101.6 40.7" overflow="hidden">
<rect x="539.2" y="219.8" width="105.6" height="44.7" fill="#d8d8d8"/>
<rect x="542.5" y="224.1" width="25.0" height="7.4" rx="2.8" fill="#141414" fill-opacity="1.00" filter="url(#b1)"/>
<rect x="570.6" y="224.8" width="19.5" height="6.4" rx="2.4" fill="#141414" fill-opacity="1.00" filter="url(#b1)"/>
<rect x="594.0" y="224.5" width="19.5" height="5.8" rx="2.2" fill="#141414" fill-opacity="0.95" filter="url(#b1)"/>
<rect x="617.5" y="223.9" width="22.7" height="6.6" rx="2.5" fill="#141414" fill-opacity="1.00" filter="url(#b1)"/>
<rect x="593.5" y="236.3" width="21.0" height="6.0" rx="2.2" fill="#141414" fill-opacity="1.00" filter="url(#b1)"/>
<rect x="543.5" y="239.1" width="20.0" height="5.0" rx="1.9" fill="#141414" fill-opacity="0.14" filter="url(#b2)"/>
<rect x="571.0" y="239.5" width="16.0" height="5.0" rx="1.9" fill="#141414" fill-opacity="0.10" filter="url(#b2)"/>
<rect x="622.0" y="238.0" width="16.0" height="4.0" rx="1.5" fill="#141414" fill-opacity="0.05" filter="url(#b2)"/>
<rect x="595.0" y="259.2" width="16.0" height="1.5" rx="0.6" fill="#141414" fill-opacity="0.08" filter="url(#b0)"/>
<rect x="544.7" y="225.8" width="20.6" height="4.0" rx="2.0" fill="#585858" fill-opacity="0.16" filter="url(#b1)"/>
<rect x="572.9" y="226.5" width="15.1" height="3.0" rx="1.5" fill="#585858" fill-opacity="0.16" filter="url(#b1)"/>
<rect x="619.8" y="225.6" width="18.3" height="3.2" rx="1.6" fill="#585858" fill-opacity="0.16" filter="url(#b1)"/>
</svg>
<svg x="540.2" y="265.0" width="100.9" height="11.5" viewBox="540.2 265.0 100.9 11.5" overflow="hidden">
<rect x="538.2" y="263.0" width="104.9" height="15.5" fill="#b8b8b8"/>
<rect x="540.9" y="266.3" width="23.5" height="8.8" rx="3.3" fill="#141414" fill-opacity="0.90" filter="url(#b1)"/>
<rect x="568.2" y="266.3" width="20.3" height="8.8" rx="3.3" fill="#141414" fill-opacity="0.90" filter="url(#b1)"/>
<rect x="592.5" y="266.3" width="21.0" height="8.4" rx="3.2" fill="#141414" fill-opacity="0.90" filter="url(#b1)"/>
<rect x="616.8" y="266.4" width="24.3" height="9.0" rx="3.4" fill="#141414" fill-opacity="0.90" filter="url(#b1)"/>
<rect x="563.2" y="268.4" width="6.0" height="1.5" rx="0.6" fill="#141414" fill-opacity="0.80" filter="url(#b0)"/>
<rect x="588.1" y="268.4" width="5.0" height="1.5" rx="0.6" fill="#141414" fill-opacity="0.80" filter="url(#b0)"/>
<rect x="612.7" y="268.6" width="5.0" height="1.5" rx="0.6" fill="#141414" fill-opacity="0.80" filter="url(#b0)"/>
</svg>
<g filter="url(#tb)">
<text x="249.0" y="14.9" font-size="12" font-weight="bold" text-anchor="start" >D</text>
<text x="249.4" y="175.3" font-size="12" font-weight="bold" text-anchor="start" >E</text>
<g stroke="#bdbdbd" stroke-width="0.9" fill="none">
<path d="M287.3 30.8 V148.2" stroke="#cdcdcd"/><path d="M287.3 148.2 H487.4"/>
<path d="M284.8 148.2 H287.3"/>
<path d="M284.8 128.6 H287.3"/>
<path d="M284.8 109.1 H287.3"/>
<path d="M284.8 89.5 H287.3"/>
<path d="M284.8 70.0 H287.3"/>
<path d="M284.8 50.4 H287.3"/>
<path d="M284.8 30.8 H287.3"/>

<path d="M312.9 148.2 V150.6"/>
<path d="M337.7 148.2 V150.6"/>
<path d="M362.5 148.2 V150.6"/>
<path d="M387.3 148.2 V150.6"/>
<path d="M412.1 148.2 V150.6"/>
<path d="M436.9 148.2 V150.6"/>
<path d="M461.7 148.2 V150.6"/>
<path d="M486.5 148.2 V150.6"/>
</g>
<text x="280.2" y="151.0" font-size="8.5" font-weight="bold" text-anchor="end" >0</text>
<text x="280.2" y="131.4" font-size="8.5" font-weight="bold" text-anchor="end" >20</text>
<text x="280.2" y="111.9" font-size="8.5" font-weight="bold" text-anchor="end" >40</text>
<text x="280.2" y="92.3" font-size="8.5" font-weight="bold" text-anchor="end" >60</text>
<text x="280.2" y="72.8" font-size="8.5" font-weight="bold" text-anchor="end" >80</text>
<text x="280.2" y="53.2" font-size="8.5" font-weight="bold" text-anchor="end" >100</text>
<text x="280.2" y="33.6" font-size="8.5" font-weight="bold" text-anchor="end" >120</text>
<text x="300.5" y="161.0" font-size="8.2" font-weight="bold" text-anchor="middle" >0</text>
<text x="325.3" y="161.0" font-size="8.2" font-weight="bold" text-anchor="middle" >0.3</text>
<text x="350.1" y="161.0" font-size="8.2" font-weight="bold" text-anchor="middle" >0.6</text>
<text x="374.9" y="161.0" font-size="8.2" font-weight="bold" text-anchor="middle" >1.25</text>
<text x="399.7" y="161.0" font-size="8.2" font-weight="bold" text-anchor="middle" >2.5</text>
<text x="424.5" y="161.0" font-size="8.2" font-weight="bold" text-anchor="middle" >5</text>
<text x="449.3" y="161.0" font-size="8.2" font-weight="bold" text-anchor="middle" >10</text>
<text x="474.1" y="161.0" font-size="8.2" font-weight="bold" text-anchor="middle" >20</text>
<text x="405.8" y="185.2" font-size="8.5" font-weight="bold" text-anchor="middle" >Erlotinib (&#956;M)</text>
<text transform="translate(263.6 80.4) rotate(-90)" font-size="7.4" font-weight="bold" text-anchor="middle">% control</text>
</g>
<g filter="url(#tb)">
<path d="M300.5 47.5 V53.3 M298.5 47.5 H302.5 M298.5 53.3 H302.5" stroke="#aaa" stroke-width="0.7" fill="none"/>
<path d="M325.3 59.2 V63.1 M323.3 59.2 H327.3 M323.3 63.1 H327.3" stroke="#aaa" stroke-width="0.7" fill="none"/>
<path d="M350.1 65.1 V70.9 M348.1 65.1 H352.1 M348.1 70.9 H352.1" stroke="#aaa" stroke-width="0.7" fill="none"/>
<path d="M374.9 73.9 V79.7 M372.9 73.9 H376.9 M372.9 79.7 H376.9" stroke="#aaa" stroke-width="0.7" fill="none"/>
<path d="M399.7 84.6 V88.5 M397.7 84.6 H401.7 M397.7 88.5 H401.7" stroke="#aaa" stroke-width="0.7" fill="none"/>
<path d="M424.5 101.3 V109.1 M422.5 101.3 H426.5 M422.5 109.1 H426.5" stroke="#aaa" stroke-width="0.7" fill="none"/>
<path d="M449.3 125.7 V129.6 M447.3 125.7 H451.3 M447.3 129.6 H451.3" stroke="#aaa" stroke-width="0.7" fill="none"/>
<path d="M474.1 140.4 V144.3 M472.1 140.4 H476.1 M472.1 144.3 H476.1" stroke="#aaa" stroke-width="0.7" fill="none"/>
<path d="M300.5 47.5 V53.3 M298.5 47.5 H302.5 M298.5 53.3 H302.5" stroke="#aaa" stroke-width="0.7" fill="none"/>
<path d="M325.3 61.6 V65.6 M323.3 61.6 H327.3 M323.3 65.6 H327.3" stroke="#aaa" stroke-width="0.7" fill="none"/>
<path d="M350.1 65.1 V70.9 M348.1 65.1 H352.1 M348.1 70.9 H352.1" stroke="#aaa" stroke-width="0.7" fill="none"/>
<path d="M374.9 68.0 V75.8 M372.9 68.0 H376.9 M372.9 75.8 H376.9" stroke="#aaa" stroke-width="0.7" fill="none"/>
<path d="M399.7 70.0 V75.8 M397.7 70.0 H401.7 M397.7 75.8 H401.7" stroke="#aaa" stroke-width="0.7" fill="none"/>
<path d="M424.5 79.7 V87.6 M422.5 79.7 H426.5 M422.5 87.6 H426.5" stroke="#aaa" stroke-width="0.7" fill="none"/>
<path d="M449.3 88.5 V98.3 M447.3 88.5 H451.3 M447.3 98.3 H451.3" stroke="#aaa" stroke-width="0.7" fill="none"/>
<path d="M474.1 96.4 V104.2 M472.1 96.4 H476.1 M472.1 104.2 H476.1" stroke="#aaa" stroke-width="0.7" fill="none"/>
<path d="M300.5 46.5 V54.3 M298.5 46.5 H302.5 M298.5 54.3 H302.5" stroke="#aaa" stroke-width="0.7" fill="none"/>
<path d="M325.3 61.6 V65.6 M323.3 61.6 H327.3 M323.3 65.6 H327.3" stroke="#aaa" stroke-width="0.7" fill="none"/>
<path d="M350.1 73.9 V85.6 M348.1 73.9 H352.1 M348.1 85.6 H352.1" stroke="#aaa" stroke-width="0.7" fill="none"/>
<path d="M374.9 86.6 V96.4 M372.9 86.6 H376.9 M372.9 96.4 H376.9" stroke="#aaa" stroke-width="0.7" fill="none"/>
<path d="M399.7 80.7 V86.6 M397.7 80.7 H401.7 M397.7 86.6 H401.7" stroke="#aaa" stroke-width="0.7" fill="none"/>
<path d="M424.5 77.8 V85.6 M422.5 77.8 H426.5 M422.5 85.6 H426.5" stroke="#aaa" stroke-width="0.7" fill="none"/>
<path d="M449.3 80.7 V86.6 M447.3 80.7 H451.3 M447.3 86.6 H451.3" stroke="#aaa" stroke-width="0.7" fill="none"/>
<path d="M474.1 69.0 V78.8 M472.1 69.0 H476.1 M472.1 78.8 H476.1" stroke="#aaa" stroke-width="0.7" fill="none"/>
<path d="M300.5 46.5 V54.3 M298.5 46.5 H302.5 M298.5 54.3 H302.5" stroke="#aaa" stroke-width="0.7" fill="none"/>
<path d="M325.3 59.2 V63.1 M323.3 59.2 H327.3 M323.3 63.1 H327.3" stroke="#aaa" stroke-width="0.7" fill="none"/>
<path d="M350.1 58.2 V68.0 M348.1 58.2 H352.1 M348.1 68.0 H352.1" stroke="#aaa" stroke-width="0.7" fill="none"/>
<path d="M374.9 57.2 V69.0 M372.9 57.2 H376.9 M372.9 69.0 H376.9" stroke="#aaa" stroke-width="0.7" fill="none"/>
<path d="M399.7 63.1 V67.0 M397.7 63.1 H401.7 M397.7 67.0 H401.7" stroke="#aaa" stroke-width="0.7" fill="none"/>
<path d="M424.5 70.0 V73.9 M422.5 70.0 H426.5 M422.5 73.9 H426.5" stroke="#aaa" stroke-width="0.7" fill="none"/>
<path d="M449.3 76.8 V90.5 M447.3 76.8 H451.3 M447.3 90.5 H451.3" stroke="#aaa" stroke-width="0.7" fill="none"/>
<path d="M474.1 91.5 V97.3 M472.1 91.5 H476.1 M472.1 97.3 H476.1" stroke="#aaa" stroke-width="0.7" fill="none"/>
<polyline points="300.5,50.4 325.3,61.2 350.1,68.0 374.9,76.8 399.7,86.6 424.5,105.2 449.3,127.7 474.1,142.3" fill="none" stroke="#1a1a1a" stroke-width="0.9"/>
<polyline points="300.5,50.4 325.3,63.6 350.1,68.0 374.9,71.9 399.7,72.9 424.5,83.7 449.3,93.4 474.1,100.3" fill="none" stroke="#1a1a1a" stroke-width="0.9"/>
<polyline points="300.5,50.4 325.3,63.6 350.1,79.7 374.9,91.5 399.7,83.7 424.5,81.7 449.3,83.7 474.1,73.9" fill="none" stroke="#1a1a1a" stroke-width="0.9"/>
<polyline points="300.5,50.4 325.3,61.2 350.1,63.1 374.9,63.1 399.7,65.1 424.5,71.9 449.3,83.7 474.1,94.4" fill="none" stroke="#1a1a1a" stroke-width="0.9"/>
<rect x="297.95" y="47.85" width="5.10" height="5.10" fill="#111"/>
<rect x="322.75" y="61.05" width="5.10" height="5.10" fill="#111"/>
<rect x="347.55" y="65.45" width="5.10" height="5.10" fill="#111"/>
<rect x="372.35" y="69.37" width="5.10" height="5.10" fill="#111"/>
<rect x="397.15" y="70.34" width="5.10" height="5.10" fill="#111"/>
<rect x="421.95" y="81.10" width="5.10" height="5.10" fill="#111"/>
<rect x="446.75" y="90.88" width="5.10" height="5.10" fill="#111"/>
<rect x="471.55" y="97.73" width="5.10" height="5.10" fill="#111"/>
<circle cx="300.5" cy="50.4" r="3.10" fill="#111"/>
<circle cx="325.3" cy="63.6" r="3.10" fill="#111"/>
<circle cx="350.1" cy="79.7" r="3.10" fill="#111"/>
<circle cx="374.9" cy="91.5" r="3.10" fill="#111"/>
<circle cx="399.7" cy="83.7" r="3.10" fill="#111"/>
<circle cx="424.5" cy="81.7" r="3.10" fill="#111"/>
<circle cx="449.3" cy="83.7" r="3.10" fill="#111"/>
<circle cx="474.1" cy="73.9" r="3.10" fill="#111"/>
<rect x="298.20" y="48.10" width="4.59" height="4.59" fill="#fff" stroke="#111" stroke-width="1.0"/>
<rect x="323.00" y="58.86" width="4.59" height="4.59" fill="#fff" stroke="#111" stroke-width="1.0"/>
<rect x="347.81" y="65.71" width="4.59" height="4.59" fill="#fff" stroke="#111" stroke-width="1.0"/>
<rect x="372.60" y="74.51" width="4.59" height="4.59" fill="#fff" stroke="#111" stroke-width="1.0"/>
<rect x="397.40" y="84.29" width="4.59" height="4.59" fill="#fff" stroke="#111" stroke-width="1.0"/>
<rect x="422.20" y="102.87" width="4.59" height="4.59" fill="#fff" stroke="#111" stroke-width="1.0"/>
<rect x="447.00" y="125.37" width="4.59" height="4.59" fill="#fff" stroke="#111" stroke-width="1.0"/>
<rect x="471.81" y="140.04" width="4.59" height="4.59" fill="#fff" stroke="#111" stroke-width="1.0"/>
<circle cx="300.5" cy="50.4" r="2.55" fill="#fff" stroke="#111" stroke-width="1.0"/>
<circle cx="325.3" cy="61.2" r="2.55" fill="#fff" stroke="#111" stroke-width="1.0"/>
<circle cx="350.1" cy="63.1" r="2.55" fill="#fff" stroke="#111" stroke-width="1.0"/>
<circle cx="374.9" cy="63.1" r="2.55" fill="#fff" stroke="#111" stroke-width="1.0"/>
<circle cx="399.7" cy="65.1" r="2.55" fill="#fff" stroke="#111" stroke-width="1.0"/>
<circle cx="424.5" cy="71.9" r="2.55" fill="#fff" stroke="#111" stroke-width="1.0"/>
<circle cx="449.3" cy="83.7" r="2.55" fill="#fff" stroke="#111" stroke-width="1.0"/>
<circle cx="474.1" cy="94.4" r="2.55" fill="#fff" stroke="#111" stroke-width="1.0"/>
</g>
<g filter="url(#tb)">
<g stroke="#a6a6a6" stroke-width="0.9" fill="none">
<path d="M284.6 205.3 V330.2 H497.6"/>
<path d="M282.4 330.2 H284.6"/>
<path d="M282.4 309.4 H284.6"/>
<path d="M282.4 288.6 H284.6"/>
<path d="M282.4 267.8 H284.6"/>
<path d="M282.4 247.0 H284.6"/>
<path d="M282.4 226.1 H284.6"/>
<path d="M282.4 205.3 H284.6"/>
<path d="M315.0 330.2 V332.6"/>
<path d="M345.4 330.2 V332.6"/>
<path d="M375.8 330.2 V332.6"/>
<path d="M406.2 330.2 V332.6"/>
<path d="M436.6 330.2 V332.6"/>
<path d="M467.0 330.2 V332.6"/>
<path d="M497.4 330.2 V332.6"/>
</g>
<text x="276.5" y="332.7" font-size="7.6" font-weight="bold" text-anchor="end" >0</text>
<text x="276.5" y="311.9" font-size="7.6" font-weight="bold" text-anchor="end" >20</text>
<text x="276.5" y="291.1" font-size="7.6" font-weight="bold" text-anchor="end" >40</text>
<text x="276.5" y="270.3" font-size="7.6" font-weight="bold" text-anchor="end" >60</text>
<text x="276.5" y="249.5" font-size="7.6" font-weight="bold" text-anchor="end" >80</text>
<text x="276.5" y="228.6" font-size="7.6" font-weight="bold" text-anchor="end" >100</text>
<text x="276.5" y="207.8" font-size="7.6" font-weight="bold" text-anchor="end" >120</text>
<text x="299.9" y="344.2" font-size="7.6" font-weight="bold" text-anchor="middle" >0</text>
<text x="330.3" y="344.2" font-size="7.6" font-weight="bold" text-anchor="middle" >0.1</text>
<text x="360.7" y="344.2" font-size="7.6" font-weight="bold" text-anchor="middle" >0.3</text>
<text x="391.1" y="344.2" font-size="7.6" font-weight="bold" text-anchor="middle" >1</text>
<text x="421.5" y="344.2" font-size="7.6" font-weight="bold" text-anchor="middle" >3</text>
<text x="451.9" y="344.2" font-size="7.6" font-weight="bold" text-anchor="middle" >10</text>
<text x="482.3" y="344.2" font-size="7.6" font-weight="bold" text-anchor="middle" >30</text>
<text x="391.0" y="357.0" font-size="7.6" font-weight="bold" text-anchor="middle" >Tamoxifen (&#956;M)</text>
<text transform="translate(262.0 259.0) rotate(-90)" font-size="7.6" font-weight="bold" text-anchor="middle">% control</text>
<path d="M299.9 220.9 V231.3 M297.7 220.9 H302.1 M297.7 231.3 H302.1" stroke="#111" stroke-width="0.8" fill="none"/>
<path d="M330.3 223.0 V231.4 M328.1 223.0 H332.5 M328.1 231.4 H332.5" stroke="#111" stroke-width="0.8" fill="none"/>
<path d="M360.7 225.1 V233.4 M358.5 225.1 H362.9 M358.5 233.4 H362.9" stroke="#111" stroke-width="0.8" fill="none"/>
<path d="M391.1 217.8 V230.3 M388.9 217.8 H393.3 M388.9 230.3 H393.3" stroke="#111" stroke-width="0.8" fill="none"/>
<path d="M421.5 217.8 V230.3 M419.3 217.8 H423.7 M419.3 230.3 H423.7" stroke="#111" stroke-width="0.8" fill="none"/>
<path d="M451.9 224.1 V228.2 M449.7 224.1 H454.1 M449.7 228.2 H454.1" stroke="#111" stroke-width="0.8" fill="none"/>
<path d="M299.9 220.9 V231.3 M297.7 220.9 H302.1 M297.7 231.3 H302.1" stroke="#111" stroke-width="0.8" fill="none"/>
<path d="M330.3 227.2 V235.5 M328.1 227.2 H332.5 M328.1 235.5 H332.5" stroke="#111" stroke-width="0.8" fill="none"/>
<path d="M360.7 233.4 V239.7 M358.5 233.4 H362.9 M358.5 239.7 H362.9" stroke="#111" stroke-width="0.8" fill="none"/>
<path d="M391.1 236.6 V242.8 M388.9 236.6 H393.3 M388.9 242.8 H393.3" stroke="#111" stroke-width="0.8" fill="none"/>
<path d="M421.5 232.9 V241.2 M419.3 232.9 H423.7 M419.3 241.2 H423.7" stroke="#111" stroke-width="0.8" fill="none"/>
<path d="M451.9 227.7 V234.0 M449.7 227.7 H454.1 M449.7 234.0 H454.1" stroke="#111" stroke-width="0.8" fill="none"/>
<path d="M299.9 220.9 V231.3 M297.7 220.9 H302.1 M297.7 231.3 H302.1" stroke="#111" stroke-width="0.8" fill="none"/>
<path d="M330.3 241.8 V252.2 M328.1 241.8 H332.5 M328.1 252.2 H332.5" stroke="#111" stroke-width="0.8" fill="none"/>
<path d="M360.7 249.0 V261.5 M358.5 249.0 H362.9 M358.5 261.5 H362.9" stroke="#111" stroke-width="0.8" fill="none"/>
<path d="M391.1 260.5 V264.6 M388.9 260.5 H393.3 M388.9 264.6 H393.3" stroke="#111" stroke-width="0.8" fill="none"/>
<path d="M421.5 264.7 V277.1 M419.3 264.7 H423.7 M419.3 277.1 H423.7" stroke="#111" stroke-width="0.8" fill="none"/>
<path d="M451.9 270.9 V275.1 M449.7 270.9 H454.1 M449.7 275.1 H454.1" stroke="#111" stroke-width="0.8" fill="none"/>
<path d="M299.9 220.9 V231.3 M297.7 220.9 H302.1 M297.7 231.3 H302.1" stroke="#111" stroke-width="0.8" fill="none"/>
<path d="M330.3 242.8 V253.2 M328.1 242.8 H332.5 M328.1 253.2 H332.5" stroke="#111" stroke-width="0.8" fill="none"/>
<path d="M360.7 255.3 V263.6 M358.5 255.3 H362.9 M358.5 263.6 H362.9" stroke="#111" stroke-width="0.8" fill="none"/>
<path d="M391.1 260.5 V270.9 M388.9 260.5 H393.3 M388.9 270.9 H393.3" stroke="#111" stroke-width="0.8" fill="none"/>
<path d="M421.5 264.7 V277.1 M419.3 264.7 H423.7 M419.3 277.1 H423.7" stroke="#111" stroke-width="0.8" fill="none"/>
<path d="M451.9 274.0 V278.2 M449.7 274.0 H454.1 M449.7 278.2 H454.1" stroke="#111" stroke-width="0.8" fill="none"/>
<polyline points="299.9,226.1 330.3,227.2 360.7,229.3 391.1,224.1 421.5,224.1 451.9,226.1 482.3,290.7" fill="none" stroke="#1a1a1a" stroke-width="0.85"/>
<polyline points="299.9,226.1 330.3,231.4 360.7,236.6 391.1,239.7 421.5,237.1 451.9,230.8 482.3,329.7" fill="none" stroke="#1a1a1a" stroke-width="0.85"/>
<polyline points="299.9,226.1 330.3,247.0 360.7,255.3 391.1,262.6 421.5,270.9 451.9,273.0 482.3,318.8" fill="none" stroke="#1a1a1a" stroke-width="0.85"/>
<polyline points="299.9,226.1 330.3,248.0 360.7,259.4 391.1,265.7 421.5,270.9 451.9,276.1 482.3,327.1" fill="none" stroke="#1a1a1a" stroke-width="0.85"/>
<rect x="297.70" y="223.95" width="4.40" height="4.40" fill="#111"/>
<rect x="328.10" y="244.76" width="4.40" height="4.40" fill="#111"/>
<rect x="358.50" y="253.08" width="4.40" height="4.40" fill="#111"/>
<rect x="388.90" y="260.37" width="4.40" height="4.40" fill="#111"/>
<rect x="419.30" y="268.69" width="4.40" height="4.40" fill="#111"/>
<rect x="449.70" y="270.77" width="4.40" height="4.40" fill="#111"/>
<rect x="480.10" y="316.55" width="4.40" height="4.40" fill="#111"/>
<circle cx="299.9" cy="226.1" r="2.75" fill="#111"/>
<circle cx="330.3" cy="248.0" r="2.75" fill="#111"/>
<circle cx="360.7" cy="259.4" r="2.75" fill="#111"/>
<circle cx="391.1" cy="265.7" r="2.75" fill="#111"/>
<circle cx="421.5" cy="270.9" r="2.75" fill="#111"/>
<circle cx="451.9" cy="276.1" r="2.75" fill="#111"/>
<circle cx="482.3" cy="327.1" r="2.75" fill="#111"/>
<rect x="297.92" y="224.17" width="3.96" height="3.96" fill="#fff" stroke="#111" stroke-width="1.0"/>
<rect x="328.32" y="225.21" width="3.96" height="3.96" fill="#fff" stroke="#111" stroke-width="1.0"/>
<rect x="358.72" y="227.29" width="3.96" height="3.96" fill="#fff" stroke="#111" stroke-width="1.0"/>
<rect x="389.12" y="222.09" width="3.96" height="3.96" fill="#fff" stroke="#111" stroke-width="1.0"/>
<rect x="419.52" y="222.09" width="3.96" height="3.96" fill="#fff" stroke="#111" stroke-width="1.0"/>
<rect x="449.92" y="224.17" width="3.96" height="3.96" fill="#fff" stroke="#111" stroke-width="1.0"/>
<rect x="480.32" y="288.68" width="3.96" height="3.96" fill="#fff" stroke="#111" stroke-width="1.0"/>
<circle cx="299.9" cy="226.1" r="2.20" fill="#fff" stroke="#111" stroke-width="1.0"/>
<circle cx="330.3" cy="231.4" r="2.20" fill="#fff" stroke="#111" stroke-width="1.0"/>
<circle cx="360.7" cy="236.6" r="2.20" fill="#fff" stroke="#111" stroke-width="1.0"/>
<circle cx="391.1" cy="239.7" r="2.20" fill="#fff" stroke="#111" stroke-width="1.0"/>
<circle cx="421.5" cy="237.1" r="2.20" fill="#fff" stroke="#111" stroke-width="1.0"/>
<circle cx="451.9" cy="230.8" r="2.20" fill="#fff" stroke="#111" stroke-width="1.0"/>
<circle cx="482.3" cy="329.7" r="2.20" fill="#fff" stroke="#111" stroke-width="1.0"/>
</g>
</svg>
</body></html>
